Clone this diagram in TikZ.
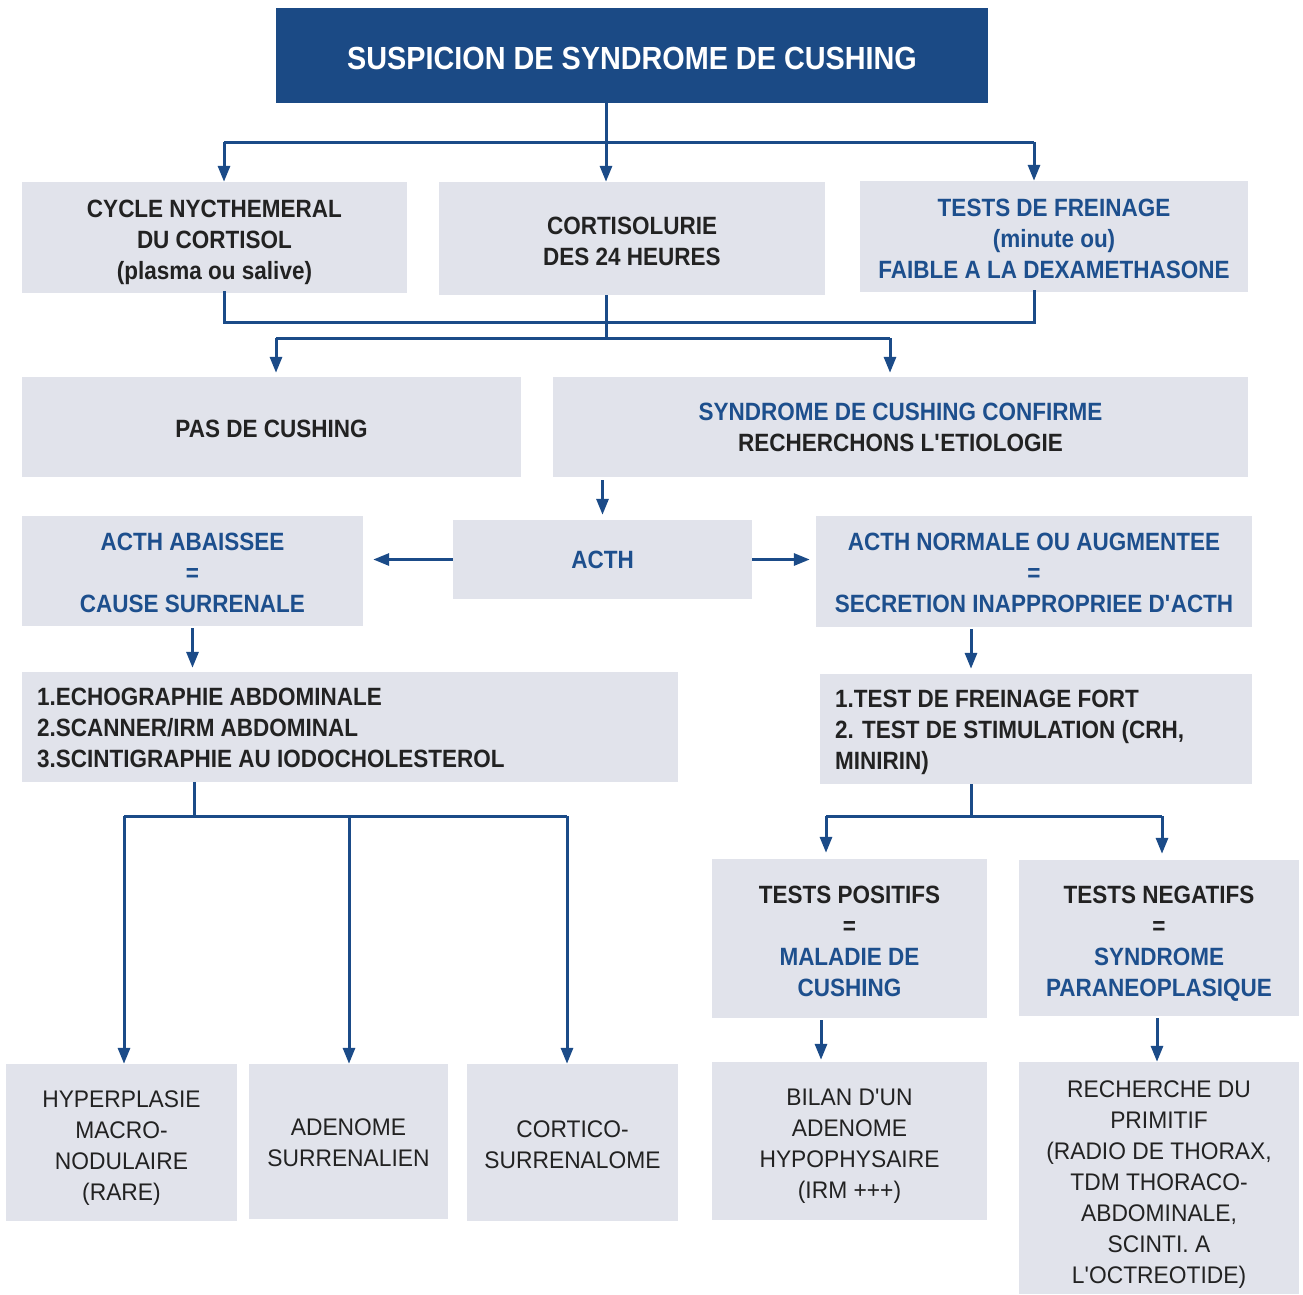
\documentclass[tikz,border=0pt]{standalone}
\usepackage{fontspec}
\setmainfont{Liberation Sans}[FakeStretch=0.9]
\newfontfamily\regfont{Liberation Sans}[FakeStretch=0.95]
\usetikzlibrary{arrows.meta}
\definecolor{headc}{HTML}{1B4A85}
\definecolor{boxc}{HTML}{E1E3EB}
\definecolor{bluet}{HTML}{1D4F8D}
\definecolor{arrc}{HTML}{1B4B88}
\definecolor{textc}{HTML}{222222}
\newcommand{\ap}{\textquotesingle}
\newcommand{\tp}[1]{\rule{0pt}{#1pt}}
\tikzset{
  ln/.style={draw=arrc, line width=3pt},
  arr/.style={ln, -{Triangle[length=16pt,width=12pt]}},
  box/.style={fill=boxc, draw=none, inner sep=0pt, align=center, text=textc,
    font=\bfseries\fontsize{25}{31}\selectfont},
  rbox/.style={box, font=\regfont\fontsize{24}{31}\selectfont},
  lbox/.style={box, align=flush left, inner xsep=15pt},
  hbox/.style={fill=headc, draw=none, inner sep=0pt, text=white, font=\bfseries\fontsize{32}{38}\selectfont}
}
\begin{document}
\begin{tikzpicture}[x=1pt,y=-1pt]
\useasboundingbox (0,0) rectangle (1303,1294);
% nodes
\node[hbox, minimum width=712pt, minimum height=95pt] (head) at (632,55.5) {\tp{29}SUSPICION DE SYNDROME DE CUSHING};
\node[box, minimum width=385pt, minimum height=111pt] (A) at (214.5,237.5) {\tp{26.2}CYCLE NYCTHEMERAL\\DU CORTISOL\\(plasma ou salive)};
\node[box, minimum width=386pt, minimum height=113pt] (B) at (632,238.5) {\tp{24.2}CORTISOLURIE\\DES 24 HEURES};
\node[box, minimum width=388pt, minimum height=111pt, text=bluet] (C) at (1054,236.5) {\tp{22.2}TESTS DE FREINAGE\\(minute ou)\\FAIBLE A LA DEXAMETHASONE};
\node[box, minimum width=499pt, minimum height=100pt] (pas) at (271.5,427) {\tp{22.2}PAS DE CUSHING};
\node[box, minimum width=695pt, minimum height=100pt] (synd) at (900.5,427) {\textcolor{bluet}{SYNDROME DE CUSHING CONFIRME}\\RECHERCHONS L\ap ETIOLOGIE};
\node[box, minimum width=299pt, minimum height=79pt, text=bluet] (acth) at (602.5,559.5) {ACTH};
\node[box, minimum width=341pt, minimum height=110pt, text=bluet] (abais) at (192.5,571) {\tp{22.2}ACTH ABAISSEE\\=\\CAUSE SURRENALE};
\node[box, minimum width=436pt, minimum height=111pt, text=bluet] (norm) at (1034,571.5) {\tp{20.2}ACTH NORMALE OU AUGMENTEE\\=\\SECRETION INAPPROPRIEE D\ap ACTH};
\node[lbox, text width=626pt, minimum height=110pt] (listL) at (350,727) {\tp{20.2}1.ECHOGRAPHIE ABDOMINALE\\2.SCANNER/IRM ABDOMINAL\\3.SCINTIGRAPHIE AU IODOCHOLESTEROL};
\node[lbox, text width=402pt, minimum height=110pt] (listR) at (1036,729) {\tp{24.2}1.TEST DE FREINAGE FORT\\2. TEST DE STIMULATION (CRH,\\MINIRIN)};
\node[box, minimum width=275pt, minimum height=159pt] (pos) at (849.5,938.5) {\tp{24.2}TESTS POSITIFS\\=\\\textcolor{bluet}{MALADIE DE}\\\textcolor{bluet}{CUSHING}};
\node[box, minimum width=280pt, minimum height=156pt] (neg) at (1159,938) {\tp{28.2}TESTS NEGATIFS\\=\\\textcolor{bluet}{SYNDROME}\\\textcolor{bluet}{PARANEOPLASIQUE}};
\node[rbox, minimum width=231pt, minimum height=157pt] (hyper) at (121.5,1142.5) {\tp{27.5}HYPERPLASIE\\MACRO-\\NODULAIRE\\(RARE)};
\node[rbox, minimum width=199pt, minimum height=155pt] (adeno) at (348.5,1141.5) {\tp{19.5}ADENOME\\SURRENALIEN};
\node[rbox, minimum width=211pt, minimum height=157pt] (cortico) at (572.5,1142.5) {\tp{21.5}CORTICO-\\SURRENALOME};
\node[rbox, minimum width=275pt, minimum height=158pt] (bilan) at (849.5,1141) {\tp{27.5}BILAN D\ap UN\\ADENOME\\HYPOPHYSAIRE\\(IRM +++)};
\node[rbox, minimum width=280pt, minimum height=232pt] (rech) at (1159,1178) {\tp{29.5}RECHERCHE DU\\PRIMITIF\\(RADIO DE THORAX,\\TDM THORACO-\\ABDOMINALE,\\SCINTI. A\\L\ap OCTREOTIDE)};
% coordinates
\coordinate (hs) at (606,142);
\coordinate (ca) at (224,142);
\coordinate (cc) at (1034,142);
\coordinate (ma) at (224,322);
\coordinate (mc) at (1034,322);
\coordinate (mb) at (606,338);
\coordinate (sp) at (276,338);
\coordinate (ss) at (890,338);
\coordinate (nr) at (971,0);
\coordinate (lt) at (194,816);
\coordinate (l1) at (124,816);
\coordinate (l2) at (349,816);
\coordinate (l3) at (567,816);
\coordinate (rt) at (971,816);
\coordinate (r1) at (826,816);
\coordinate (r2) at (1162,816);
\coordinate (pb) at (821,0);
\coordinate (nb) at (1157,0);
% connectors
\draw[arr] (head.south -| hs) -- (B.north -| hs);
\draw[ln] (ca) -- (cc);
\draw[arr] (ca) -- (ca |- A.north);
\draw[arr] (cc) -- (cc |- C.north);
\draw[ln] ([yshift=2pt]ma |- A.south) -- (ma) -- (mc) -- ([yshift=2pt]mc |- C.south);
\draw[ln] (mb |- B.south) -- (mb);
\draw[ln] (sp) -- (ss);
\draw[arr, shorten >=4pt] (sp) -- (sp |- pas.north);
\draw[arr, shorten >=4pt] (ss) -- (ss |- synd.north);
\draw[arr, shorten <=3pt, shorten >=5pt] (synd.south -| acth.north) -- (acth.north);
\draw[arr, shorten >=10pt] (acth.west) -- (acth.west -| abais.east);
\draw[arr, shorten >=6pt] (acth.east) -- (acth.east -| norm.west);
\draw[arr, shorten <=2pt, shorten >=4pt] (abais.south) -- (abais.south |- listL.north);
\draw[arr, shorten <=2pt, shorten >=5pt] (norm.south -| nr) -- (listR.north -| nr);
\draw[ln] (listL.south -| lt) -- (lt);
\draw[ln] (l1) -- (l3);
\draw[arr] (l1) -- (l1 |- hyper.north);
\draw[arr] (l2) -- (l2 |- adeno.north);
\draw[arr] (l3) -- (l3 |- cortico.north);
\draw[ln] (listR.south -| rt) -- (rt);
\draw[ln] (r1) -- (r2);
\draw[arr, shorten >=6pt] (r1) -- (r1 |- pos.north);
\draw[arr, shorten >=6pt] (r2) -- (r2 |- neg.north);
\draw[arr, shorten <=2pt, shorten >=2pt] (pos.south -| pb) -- (bilan.north -| pb);
\draw[arr, shorten <=2pt] (neg.south -| nb) -- (rech.north -| nb);
\end{tikzpicture}
\end{document}
